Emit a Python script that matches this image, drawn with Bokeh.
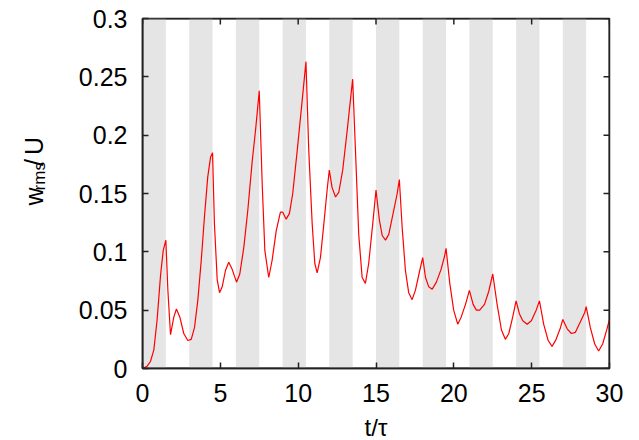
from bokeh.plotting import figure
from bokeh.models import FixedTicker, Range1d, Label
from bokeh.layouts import row
from bokeh.embed import file_html
from bokeh.resources import INLINE
import math

# ---- data ----
t_vals = [0, 0.3, 0.51, 0.73, 0.94, 1.16, 1.33, 1.5,
          1.63, 1.8, 2.01, 2.18, 2.4, 2.65, 2.91, 3.13, 3.34, 3.55, 3.77, 3.98, 4.19, 4.37, 4.5,
          4.62, 4.8, 4.95, 5.12, 5.33, 5.54, 5.76, 6.04, 6.25, 6.51, 6.76, 7.05, 7.26, 7.5,
          7.69, 7.86, 8.11, 8.33, 8.59, 8.86, 9.01, 9.23, 9.44, 9.65, 9.94, 10.26, 10.5,
          10.68, 10.9, 11.07, 11.22, 11.43, 11.65, 11.86, 12.0, 12.18, 12.4, 12.61, 12.86, 13.15, 13.38, 13.5,
          13.68, 13.89, 14.11, 14.32, 14.53, 14.79, 15.0,
          15.22, 15.4, 15.61, 15.82, 16.1, 16.36, 16.5,
          16.68, 16.89, 17.1, 17.32, 17.53, 17.81, 18.0,
          18.18, 18.39, 18.61, 18.88, 19.18, 19.4, 19.5,
          19.74, 19.99, 20.25, 20.47, 20.75, 21.0,
          21.24, 21.45, 21.66, 21.97, 22.24, 22.5,
          22.78, 23.06, 23.31, 23.53, 23.78, 24.0,
          24.21, 24.43, 24.71, 24.98, 25.29, 25.5,
          25.77, 26.06, 26.31, 26.57, 26.85, 27.0,
          27.28, 27.55, 27.81, 28.13, 28.41, 28.5,
          28.77, 29.05, 29.3, 29.56, 29.84, 30.0]

w_rms = [0, 0.002, 0.006, 0.016, 0.042, 0.080, 0.101, 0.110,
         0.067, 0.029, 0.044, 0.051, 0.044, 0.030, 0.024, 0.025, 0.035, 0.058, 0.092, 0.130, 0.164, 0.181, 0.185,
         0.124, 0.076, 0.065, 0.070, 0.084, 0.091, 0.085, 0.074, 0.081, 0.104, 0.135, 0.178, 0.204, 0.238,
         0.158, 0.101, 0.078, 0.093, 0.118, 0.134, 0.134, 0.128, 0.133, 0.150, 0.187, 0.230, 0.263,
         0.187, 0.124, 0.090, 0.082, 0.095, 0.124, 0.153, 0.170, 0.155, 0.147, 0.151, 0.170, 0.204, 0.233, 0.248,
         0.187, 0.115, 0.078, 0.073, 0.090, 0.124, 0.153,
         0.127, 0.114, 0.110, 0.115, 0.133, 0.150, 0.162,
         0.121, 0.084, 0.065, 0.059, 0.067, 0.084, 0.095,
         0.078, 0.070, 0.068, 0.074, 0.085, 0.096, 0.103,
         0.073, 0.050, 0.038, 0.044, 0.055, 0.067,
         0.055, 0.050, 0.050, 0.055, 0.066, 0.081,
         0.055, 0.033, 0.025, 0.030, 0.044, 0.058,
         0.047, 0.041, 0.038, 0.041, 0.050, 0.058,
         0.038, 0.024, 0.019, 0.025, 0.035, 0.042,
         0.034, 0.030, 0.031, 0.040, 0.048, 0.053,
         0.035, 0.021, 0.015, 0.021, 0.034, 0.042]

band_start = [0, 3, 6, 9, 12, 15, 18, 21, 24, 27]
band_end = [1.5, 4.5, 7.5, 10.5, 13.5, 16.5, 19.5, 22.5, 25.5, 28.5]

x_ticks = [0, 5, 10, 15, 20, 25, 30]
x_tick_labels = ["0", "5", "10", "15", "20", "25", "30"]
y_ticks = [0, 0.05, 0.1, 0.15, 0.2, 0.25, 0.3]
y_tick_labels = ["0", "0.05", "0.1", "0.15", "0.2", "0.25", "0.3"]

x_title = "t/τ"
y_title_parts = ["w", "rms", "/", "U"]

FONT = "Liberation Sans"
X_MIN, X_MAX = 0, 30
Y_MIN, Y_MAX = 0, 0.3
INK = "#222222"
LW = 1.5

# ---- layout sizes (pixels) ----
TITLE_W = 60
FRAME_W, FRAME_H = 467, 350
BORDER_L, BORDER_R, BORDER_T, BORDER_B = 82, 20, 18, 72
TOTAL_H = 440
TICK_LEN = 6

p = figure(frame_width=FRAME_W, frame_height=FRAME_H,
           min_border_left=BORDER_L, min_border_right=BORDER_R,
           min_border_top=BORDER_T, min_border_bottom=BORDER_B,
           x_range=Range1d(X_MIN, X_MAX), y_range=Range1d(Y_MIN, Y_MAX),
           output_backend="svg", toolbar_location=None)
p.background_fill_color = "white"
p.border_fill_color = "white"
p.outline_line_color = INK
p.outline_line_width = LW
p.xgrid.visible = False
p.ygrid.visible = False

# shaded bands
p.quad(left=band_start, right=band_end, bottom=Y_MIN, top=Y_MAX,
       fill_color="#e5e5e5", line_color=None)

# curve
p.line(t_vals, w_rms, line_color="#ff0000", line_width=1.2)

# mirror ticks on top and right edges
px_per_x = FRAME_W / (X_MAX - X_MIN)
px_per_y = FRAME_H / (Y_MAX - Y_MIN)
p.segment(x0=x_ticks, x1=x_ticks, y0=[Y_MAX] * len(x_ticks),
          y1=[Y_MAX - TICK_LEN / px_per_y] * len(x_ticks),
          line_color=INK, line_width=LW)
p.segment(x0=[X_MAX] * len(y_ticks), x1=[X_MAX - TICK_LEN / px_per_x] * len(y_ticks),
          y0=y_ticks, y1=y_ticks, line_color=INK, line_width=LW)
p.quad(left=[X_MIN], right=[X_MAX], bottom=[Y_MIN], top=[Y_MAX],
       fill_color=None, line_color=INK, line_width=2)

def style_axis(ax, ticks, labels, standoff):
    ax.ticker = FixedTicker(ticks=ticks)
    ax.major_label_overrides = {tk: lb for tk, lb in zip(ticks, labels)}
    ax.major_tick_in = TICK_LEN
    ax.major_tick_out = 0
    ax.minor_tick_in = 0
    ax.minor_tick_out = 0
    ax.major_tick_line_color = INK
    ax.major_tick_line_width = LW
    ax.axis_line_color = INK
    ax.axis_line_width = LW
    ax.major_label_text_font = FONT
    ax.major_label_text_color = "black"
    ax.major_label_text_font_size = "25px"
    ax.major_label_standoff = standoff

style_axis(p.xaxis[0], x_ticks, x_tick_labels, 15)
style_axis(p.yaxis[0], y_ticks, y_tick_labels, 15)

# x-axis title through Bokeh's own axis label (centred on the frame)
xax = p.xaxis[0]
xax.axis_label = x_title
xax.axis_label_text_font = FONT
xax.axis_label_text_font_style = "normal"
xax.axis_label_text_font_size = "24px"
xax.axis_label_text_color = "black"
xax.axis_label_standoff = 9

# ---- y-axis title panel (left), text rotated to read upward ----
yt = figure(width=TITLE_W, height=TOTAL_H, x_range=Range1d(0, TITLE_W),
            y_range=Range1d(0, TOTAL_H), output_backend="svg",
            toolbar_location=None, min_border=0,
            x_axis_type=None, y_axis_type=None)
yt.grid.visible = False
yt.outline_line_color = None
ang = math.pi / 2
# (baseline x, start y measured from top, size)
for part, bx, sy, fs in zip(y_title_parts, [33, 39, 33, 33], [237, 218, 187, 173],
                            ["25px", "17px", "25px", "25px"]):
    yt.add_layout(Label(x=bx, y=TOTAL_H - sy, text=part, angle=ang,
                        text_align="left", text_baseline="alphabetic",
                        text_font=FONT, text_font_size=fs, text_color="black"))

layout = row(yt, p, spacing=0)

open("out.html", "w").write(file_html(layout, INLINE))
